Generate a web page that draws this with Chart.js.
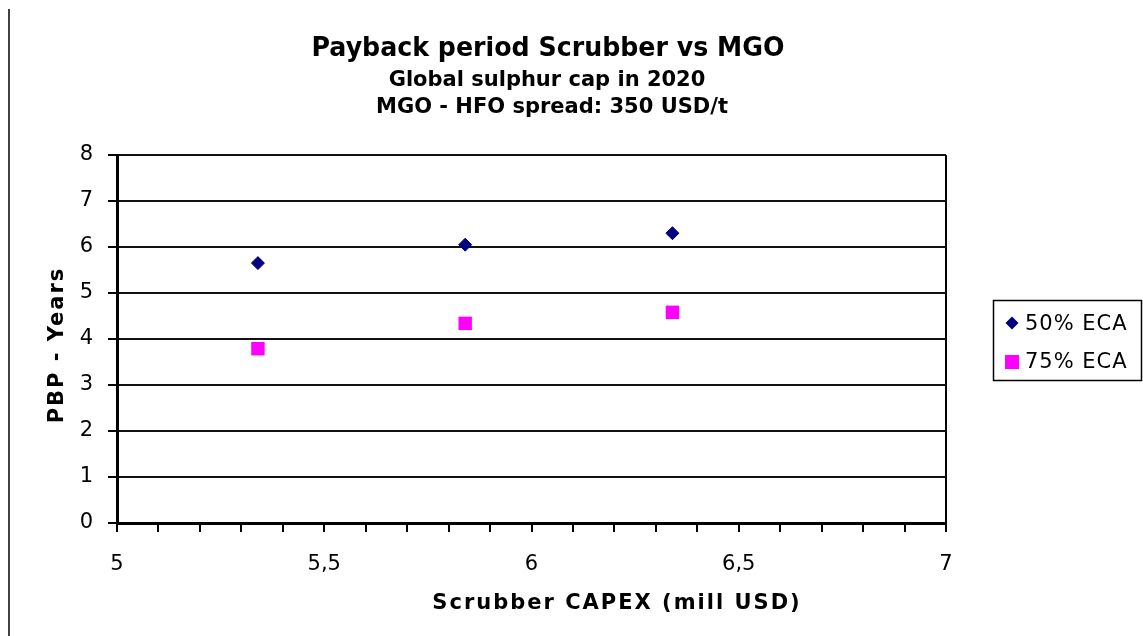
<!DOCTYPE html>
<html>
<head>
<meta charset="utf-8">
<script src="https://cdn.jsdelivr.net/npm/chart.js@4/dist/chart.umd.min.js"></script>
<style>
  body { margin: 0; background: #fff; }
  #wrap { width: 1143px; height: 636px; }
</style>
</head>
<body>
<div id="wrap"><canvas id="pbpChart" width="1143" height="636"></canvas></div>
<script>
const capexMusd = [5.34, 5.84, 6.34];
const pbp50Eca = [5.65, 6.05, 6.30];
const pbp75Eca = [3.79, 4.34, 4.58];
const seriesLabels = ['50% ECA', '75% ECA'];
const xMajorTicks = [5, 5.5, 6, 6.5, 7];

const FONT = "'DejaVu Sans', Verdana, sans-serif";

function toPoints(ys) {
    return capexMusd.map((x, i) => ({ x: x, y: ys[i] }));
}

// titles, axis titles, legend box and the left frame line
const decorPlugin = {
    id: 'decor',
    afterDraw(chart) {
        const ctx = chart.ctx;
        ctx.save();
        ctx.fillStyle = '#000';
        ctx.textAlign = 'center';
        ctx.textBaseline = 'alphabetic';

        ctx.font = 'bold 26px ' + FONT;
        ctx.fillText('Payback period Scrubber vs MGO', 548, 56, 473);
        ctx.font = 'bold 21px ' + FONT;
        ctx.fillText('Global sulphur cap in 2020', 547, 86, 318);
        ctx.fillText('MGO - HFO spread: 350 USD/t', 552, 113, 362);

        ctx.letterSpacing = '2px';
        ctx.fillText('Scrubber CAPEX (mill USD)', 617, 609);

        ctx.save();
        ctx.translate(63, 345);
        ctx.rotate(-Math.PI / 2);
        ctx.fillText('PBP - Years', 0, 0);
        ctx.restore();
        ctx.letterSpacing = '0px';

        // left frame line
        ctx.strokeStyle = '#000';
        ctx.lineWidth = 1.5;
        ctx.beginPath();
        ctx.moveTo(9, 9);
        ctx.lineTo(9, 636);
        ctx.stroke();

        // legend
        ctx.lineWidth = 1.5;
        ctx.strokeRect(993.5, 300.5, 148, 80);
        const ds = chart.data.datasets;
        ctx.textAlign = 'left';
        ctx.font = '21px ' + FONT;
        ctx.letterSpacing = '1px';

        ctx.fillStyle = ds[0].backgroundColor;
        ctx.beginPath();
        ctx.moveTo(1012, 316.5);
        ctx.lineTo(1018.5, 323);
        ctx.lineTo(1012, 329.5);
        ctx.lineTo(1005.5, 323);
        ctx.closePath();
        ctx.fill();
        ctx.fillStyle = '#000';
        ctx.fillText(ds[0].label, 1025, 330);

        ctx.fillStyle = ds[1].backgroundColor;
        ctx.fillRect(1005, 355, 14, 14);
        ctx.fillStyle = '#000';
        ctx.fillText(ds[1].label, 1025, 368);
        ctx.restore();
    }
};

window.onload = function() {
    const ctx = document.getElementById('pbpChart').getContext('2d');
    new Chart(ctx, {
        type: 'scatter',
        data: {
            datasets: [{
                label: seriesLabels[0],
                data: toPoints(pbp50Eca),
                pointStyle: 'rectRot',
                pointRadius: 6.5,
                pointHoverRadius: 6.5,
                backgroundColor: '#000080',
                borderColor: '#000080',
                borderWidth: 1
            }, {
                label: seriesLabels[1],
                data: toPoints(pbp75Eca),
                pointStyle: 'rect',
                pointRadius: 9.5,
                pointHoverRadius: 9.5,
                backgroundColor: '#ff00ff',
                borderColor: '#ff00ff',
                borderWidth: 0
            }]
        },
        options: {
            responsive: false,
            animation: false,
            events: [],
            layout: { padding: { top: 155, right: 197, bottom: 0, left: 0 } },
            plugins: {
                legend: { display: false },
                title: { display: false },
                tooltip: { enabled: false }
            },
            scales: {
                x: {
                    type: 'linear',
                    min: 5,
                    max: 7,
                    afterFit: s => { s.height = 113; },
                    border: { display: true, color: '#000', width: 3 },
                    grid: {
                        color: c => (c.tick && Math.abs(c.tick.value - 7) < 1e-6) ? '#000' : 'rgba(0,0,0,0)',
                        lineWidth: 2,
                        tickColor: '#000',
                        tickWidth: 2,
                        tickLength: 9
                    },
                    ticks: {
                        stepSize: 0.1,
                        maxTicksLimit: 30,
                        autoSkip: false,
                        maxRotation: 0,
                        padding: 20,
                        color: '#000',
                        font: { family: FONT, size: 21 },
                        callback: v => xMajorTicks.some(t => Math.abs(t - v) < 1e-6) ? String(+v.toFixed(1)).replace('.', ',') : ''
                    }
                },
                y: {
                    min: 0,
                    max: 8,
                    afterFit: s => { s.width = 117; },
                    border: { display: true, color: '#000', width: 3 },
                    grid: {
                        color: '#111',
                        lineWidth: 2,
                        tickColor: '#000',
                        tickLength: 9
                    },
                    ticks: {
                        stepSize: 1,
                        padding: 15,
                        color: '#000',
                        font: { family: FONT, size: 21 }
                    }
                }
            }
        },
        plugins: [decorPlugin]
    });
};
</script>
</body>
</html>
